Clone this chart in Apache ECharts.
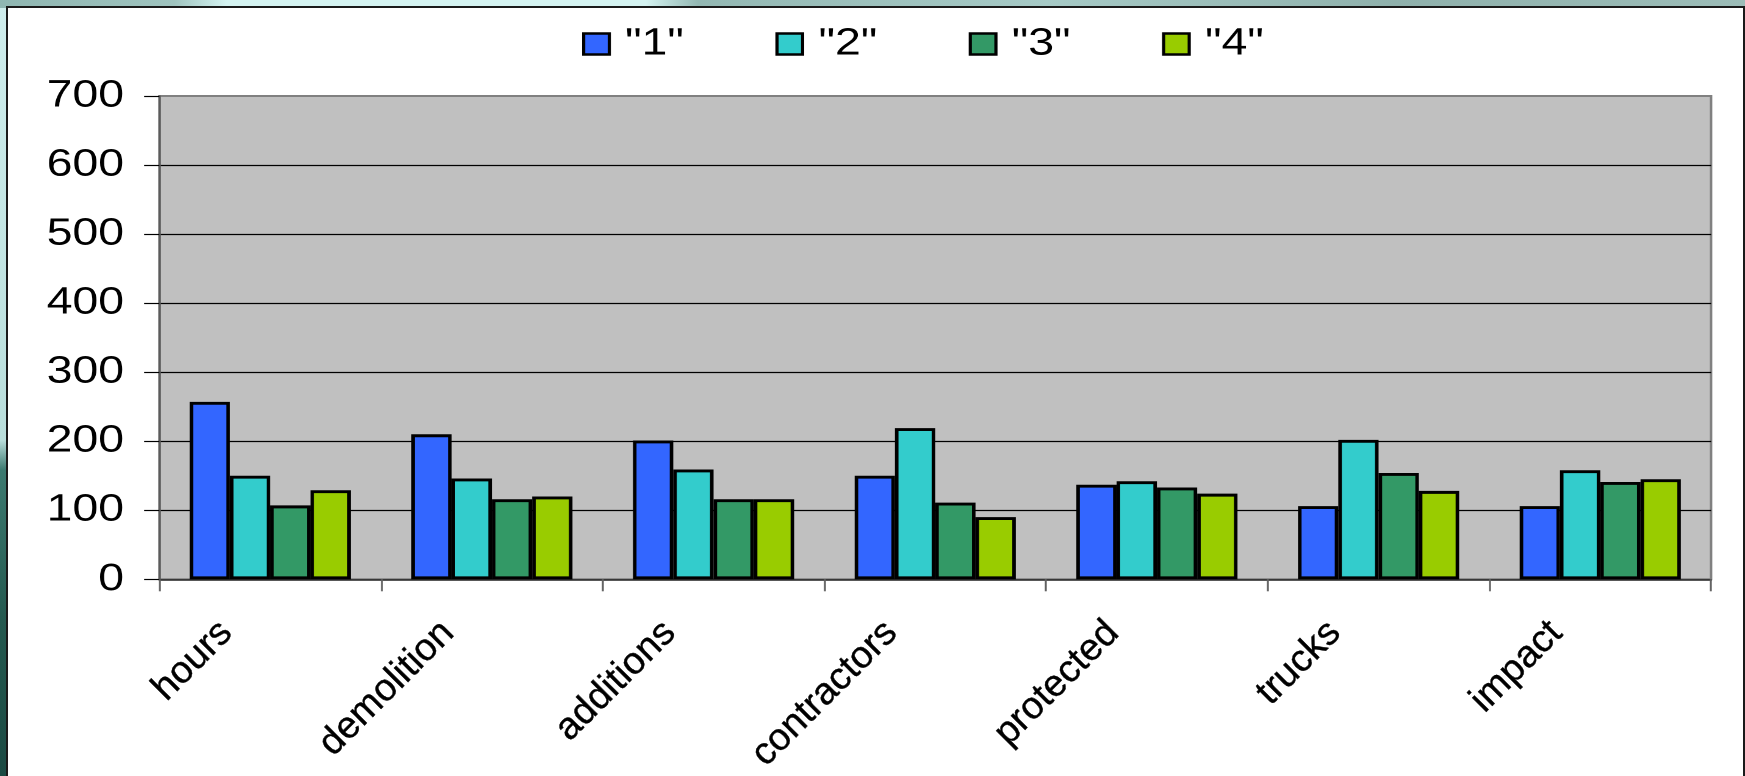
<!DOCTYPE html>
<html>
<head>
<meta charset="utf-8">
<script src="https://cdn.jsdelivr.net/npm/echarts@6/dist/echarts.min.js"></script>
<style>
  html, body { margin: 0; padding: 0; }
  body {
    width: 1745px; height: 776px; overflow: hidden; position: relative;
    background: linear-gradient(180deg, #cfeeed 0px, #b9dedb 440px, #3c7a70 470px, #24594f 620px, #1b4a43 776px);
  }
  #topstrip {
    position: absolute; left: 0; top: 0; width: 1745px; height: 8px;
    background: linear-gradient(90deg, #8fb6b1 0%, #9fc4bf 10%, #d4f3f1 13%, #d4f3f1 37%, #93b8b3 40%, #a6cac6 60%, #8fb1ac 80%, #9cbdb8 100%);
  }
  #frame {
    position: absolute; left: 6px; top: 6px; width: 1739px; height: 790px;
    box-sizing: border-box; background: #ffffff; border: 2px solid #1a1a1a;
  }
  /* the chart body is laid out narrower and widened horizontally */
  #chart {
    position: absolute; left: 0; top: 0; width: 1430px; height: 776px;
    transform: scaleX(1.22028); transform-origin: 0 0;
  }
  #labels {
    position: absolute; left: 0; top: 0; width: 1745px; height: 776px;
  }
</style>
</head>
<body>
<div id="topstrip"></div>
<div id="frame"></div>
<div id="chart"></div>
<div id="labels"></div>
<script>
// Categories and series values
const categories = ['hours', 'demolition', 'additions', 'contractors', 'protected', 'trucks', 'impact'];
const seriesNames = ['"1"', '"2"', '"3"', '"4"'];
const values1 = [257, 210, 201, 150, 137, 106, 106];
const values2 = [150, 146, 159, 219, 142, 202, 158];
const values3 = [107, 116, 116, 111, 133, 154, 141];
const values4 = [129, 120, 116, 90, 124, 128, 145];
const seriesColors = ['#3366ff', '#33cccc', '#339966', '#99cc00'];
const yMin = 0, yMax = 700, yStep = 100;

const FONT = "'Liberation Sans', Arial, sans-serif";
const allValues = [values1, values2, values3, values4];

const chart = echarts.init(document.getElementById('chart'), null, { renderer: 'canvas', devicePixelRatio: 2 });
chart.setOption({
  animation: false,
  backgroundColor: 'transparent',
  legend: {
    data: seriesNames,
    left: 472,
    top: 20,
    icon: 'rect',
    itemWidth: 21,
    itemHeight: 21,
    itemGap: 75,
    itemStyle: { borderColor: '#000', borderWidth: 2.6 },
    textStyle: { fontFamily: FONT, fontSize: 38, color: '#000', lineHeight: 38, padding: [0, 0, 0, 8] }
  },
  grid: {
    left: 130.6, right: 27.8, top: 96, bottom: 196.7,
    show: true, backgroundColor: '#c0c0c0', borderColor: '#808080', borderWidth: 2
  },
  xAxis: {
    type: 'category',
    data: categories,
    boundaryGap: true,
    axisLine: { show: true, lineStyle: { color: '#202020', width: 1.6 } },
    axisTick: { show: true, inside: false, length: 12, lineStyle: { color: '#606060', width: 1.6 } },
    axisLabel: { show: false }
  },
  yAxis: {
    type: 'value',
    min: yMin, max: yMax, interval: yStep,
    axisLine: { show: true, lineStyle: { color: '#5a5a5a', width: 1.6 } },
    axisTick: { show: true, inside: false, length: 12.5, lineStyle: { color: '#000', width: 1.2 } },
    axisLabel: { margin: 29, fontFamily: FONT, fontSize: 38, color: '#000' },
    splitLine: { show: true, showMinLine: false, showMaxLine: false, lineStyle: { color: '#000', width: 1.2 } }
  },
  series: seriesNames.map((name, i) => ({
    name: name,
    type: 'bar',
    data: allValues[i],
    barGap: '0%',
    barCategoryGap: '27.3%',
    itemStyle: { color: seriesColors[i], borderColor: '#000', borderWidth: 2.9 }
  }))
});

// Rotated category labels, laid out at full width
const labelChart = echarts.init(document.getElementById('labels'), null, { renderer: 'canvas' });
labelChart.setOption({
  animation: false,
  backgroundColor: 'transparent',
  grid: { left: 159.4, right: 34, top: 96, bottom: 196.7 },
  xAxis: {
    type: 'category',
    data: categories,
    boundaryGap: true,
    axisLine: { show: false },
    axisTick: { show: false },
    axisLabel: {
      interval: 0, rotate: 45, margin: 5, padding: [0, 62, 0, 0],
      fontFamily: FONT, fontSize: 38, color: '#000',
      textBorderColor: '#000', textBorderWidth: 0.4
    }
  },
  yAxis: { type: 'value', min: yMin, max: yMax, show: false }
});
</script>
</body>
</html>
